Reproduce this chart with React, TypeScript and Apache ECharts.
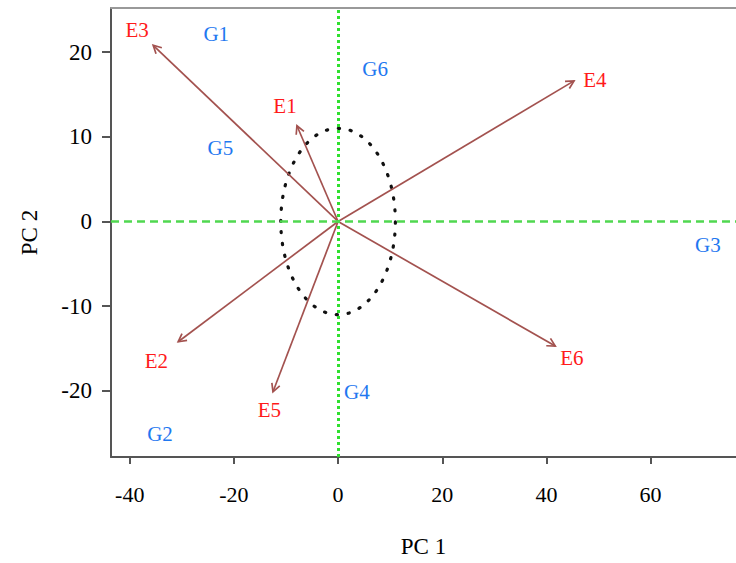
import React, { useEffect, useRef } from "react";
import * as echarts from "echarts";

// Environment vectors (arrow tips) and their labels
const envNames = ["E1", "E2", "E3", "E4", "E5", "E6"];
const envX = [-7.9, -30.7, -35.5, 45.3, -12.5, 41.7];
const envY = [11.3, -14.2, 20.8, 16.6, -20.1, -14.7];
const envLabelX = [-10.2, -34.9, -38.6, 49.3, -13.2, 44.9];
const envLabelY = [13.6, -16.5, 22.6, 16.7, -22.2, -16.1];

// Genotype labels
const genNames = ["G1", "G2", "G3", "G4", "G5", "G6"];
const genX = [-23.4, -34.2, 71.0, 3.6, -22.6, 7.1];
const genY = [22.1, -25.1, -2.8, -20.1, 8.7, 18.0];

// Circle of equilibrium radius (data units)
const circleRadius = [11, 11];

// Tick labels
const xTicks = [-40, -20, 0, 20, 40, 60];
const yTicks = [-20, -10, 0, 10, 20];

const X_MIN = -43.6;
const X_MAX = 76.4;
const Y_MIN = -27.8;
const Y_MAX = 25.2;

const SERIF = '"Liberation Serif", "Times New Roman", serif';
const ARROW = "#a3524f";

export default function App() {
  const ref = useRef<HTMLDivElement>(null);

  useEffect(() => {
    if (!ref.current) return;
    const chart = echarts.init(ref.current, null, { renderer: "svg" });

    const axisText = { color: "#000", fontFamily: SERIF };

    const option: any = {
      animation: false,
      backgroundColor: "#fff",
      grid: { left: 111, top: 8, right: 0, bottom: 105, containLabel: false },
      xAxis: [
        {
          type: "value",
          min: X_MIN,
          max: X_MAX,
          position: "bottom",
          axisLine: { show: true, onZero: false, lineStyle: { color: "#555", width: 2 } },
          axisTick: { show: true, customValues: xTicks, length: 7, lineStyle: { color: "#555", width: 2 } },
          axisLabel: { customValues: xTicks, margin: 26, fontSize: 22, ...axisText },
          splitLine: { show: false },
          name: "PC 1",
          nameLocation: "middle",
          nameGap: 78,
          nameTextStyle: { fontSize: 23, ...axisText },
        },
        {
          type: "value",
          min: X_MIN,
          max: X_MAX,
          position: "top",
          axisLine: { show: true, onZero: false, lineStyle: { color: "#999", width: 2 } },
          axisTick: { show: false },
          axisLabel: { show: false },
          splitLine: { show: false },
        },
      ],
      yAxis: {
        type: "value",
        min: Y_MIN,
        max: Y_MAX,
        axisLine: { show: true, onZero: false, lineStyle: { color: "#555", width: 2 } },
        axisTick: { show: true, customValues: yTicks, length: 9, lineStyle: { color: "#555", width: 2 } },
        axisLabel: { customValues: yTicks, margin: 19, fontSize: 23, ...axisText },
        splitLine: { show: false },
        name: "PC 2",
        nameLocation: "middle",
        nameGap: 70,
        nameRotate: 90,
        nameTextStyle: { fontSize: 23, ...axisText },
      },
      series: [
        {
          type: "line",
          data: [[0, 0]],
          showSymbol: false,
          symbol: "none",
          lineStyle: { opacity: 0 },
          z: 1,
          silent: true,
          markLine: {
            silent: true,
            symbol: ["none", "none"],
            label: { show: false },
            data: [
              { xAxis: 0, lineStyle: { color: "#2fe02f", width: 3, type: [3, 3] } },
              { yAxis: 0, lineStyle: { color: "#50d850", width: 2.5, type: [8, 5] } },
            ],
          },
        },
        {
          type: "custom",
          z: 2,
          silent: true,
          data: [[0, 0, circleRadius[0], circleRadius[1]]],
          renderItem: (params: any, api: any) => {
            const c = api.coord([api.value(0), api.value(1)]);
            const s = api.size([api.value(2), api.value(3)]);
            return {
              type: "ellipse",
              shape: { cx: c[0], cy: c[1], rx: s[0], ry: s[1] },
              style: {
                fill: "none",
                stroke: "#111",
                lineWidth: 3.2,
                lineDash: [1.2, 10.8],
                lineCap: "round",
              },
            };
          },
        },
        {
          type: "custom",
          z: 3,
          silent: true,
          data: envNames.map((n, i) => [envX[i], envY[i]]),
          renderItem: (params: any, api: any) => {
            const p0 = api.coord([0, 0]);
            const p1 = api.coord([api.value(0), api.value(1)]);
            const ang = Math.atan2(p1[1] - p0[1], p1[0] - p0[0]);
            const L = 9;
            const a = (28 * Math.PI) / 180;
            const h1 = [p1[0] - L * Math.cos(ang - a), p1[1] - L * Math.sin(ang - a)];
            const h2 = [p1[0] - L * Math.cos(ang + a), p1[1] - L * Math.sin(ang + a)];
            return {
              type: "group",
              children: [
                {
                  type: "line",
                  shape: { x1: p0[0], y1: p0[1], x2: p1[0], y2: p1[1] },
                  style: { stroke: ARROW, lineWidth: 1.7 },
                },
                {
                  type: "polyline",
                  shape: { points: [h1, p1, h2] },
                  style: { stroke: ARROW, lineWidth: 1.7, fill: "none" },
                },
              ],
            };
          },
        },
        {
          type: "custom",
          z: 4,
          silent: true,
          data: envNames.map((n, i) => [envLabelX[i], envLabelY[i]]),
          renderItem: (params: any, api: any) => {
            const p = api.coord([api.value(0), api.value(1)]);
            return {
              type: "text",
              x: p[0],
              y: p[1],
              style: {
                text: envNames[params.dataIndex],
                fill: "#ff1a1a",
                font: `21px ${SERIF}`,
                align: "center",
                verticalAlign: "middle",
              },
            };
          },
        },
        {
          type: "custom",
          z: 4,
          silent: true,
          data: genNames.map((n, i) => [genX[i], genY[i]]),
          renderItem: (params: any, api: any) => {
            const p = api.coord([api.value(0), api.value(1)]);
            return {
              type: "text",
              x: p[0],
              y: p[1],
              style: {
                text: genNames[params.dataIndex],
                fill: "#1f78f0",
                font: `21px ${SERIF}`,
                align: "center",
                verticalAlign: "middle",
              },
            };
          },
        },
      ],
    };

    chart.setOption(option);
    return () => chart.dispose();
  }, []);

  return (
    <div
      ref={ref}
      style={{ position: "fixed", left: 0, top: 0, width: 736, height: 563, background: "#fff" }}
    />
  );
}
